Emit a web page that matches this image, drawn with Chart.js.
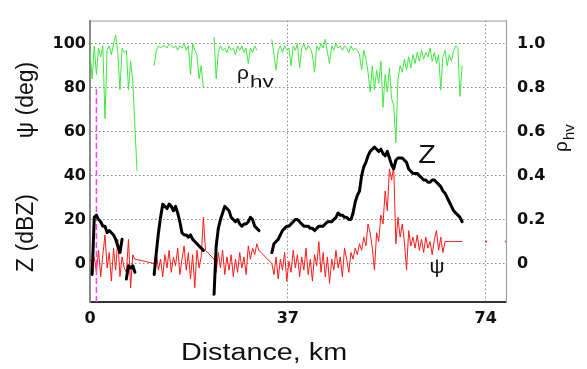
<!DOCTYPE html>
<html>
<head>
<meta charset="utf-8">
<script src="https://cdn.jsdelivr.net/npm/chart.js"></script>
<style>
  body { margin: 0; background: #fff; }
  canvas { display: block; }
</style>
</head>
<body>
<canvas id="radarChart" width="587" height="369"></canvas>
<script>
// range gates along the ray, 0.4 km apart (0 .. 70 km)
const gateKm = Array.from({ length: 176 }, (_, i) => Math.round(i * 4) / 10);

// Z (dBZ), black
const zDbz = [
  null, -5, 21, 22, 20, 19, 17, 17, 14, 15,
  14, 13, 11, 8, 5, 11, null, -7, -1, -2,
  -1, -4, null, null, null, null, null, null, null, null,
  -5, 5, 14, 21, 27, 26, 25, 27, 26, 24,
  26, 23, 19, 14, 13, 13, 12, 13, 11, 10,
  9, 8, 7, 6, null, null, null, null, -14, 8,
  16, 20, 23, 26, 25, 24, 21, 20, 19, 20,
  18, 17, 18, 18, 19, 21, 20, 17, 16, 15,
  null, null, null, null, null, 5, 9, 10, 11, 13,
  15, 16, 17, 17, 18, 19, 20, 20, 19, 18,
  17, 17, 17, 16, 16, 15, 16, 17, 17, 17,
  18, 19, 19, 19, 20, 21, 23, 22, 22, 21,
  21, 20, 20, 23, 28, 31, 33, 40, 44, 46,
  49, 51, 52, 53, 52, 51, 52, 50, 49, 51,
  48, 45, 43, 47, 48, 48, 48, 47, 46, 43,
  42, 41, 41, 41, 40, 39, 38, 38, 37, 37,
  38, 38, 37, 36, 35, 33, 32, 30, 28, 26,
  24, 23, 22, 21, 19, null
];

// psi (deg), red
const psiDeg = [
  2, 0, 3, -4, 6, -6, 4, 13, -2, 5,
  -8, 7, -3, 11, -6, 3, -2, -4, 11, -11,
  4, 2, null, null, null, null, null, null, null, null,
  0, 5, -3, 2, -6, 4, -2, 6, -4, 3,
  -1, 7, -5, 2, 8, -3, 5, -7, 4, -11,
  6, -2, 3, 21, 6, null, null, null, 2, -4,
  5, -2, 6, -5, 3, -3, 4, -6, 2, -4,
  5, -2, 3, -5, 8, 2, 7, 4, 9, 6,
  null, null, null, null, null, 0, -5, 3, -7, 2,
  -3, 5, -8, 1, -4, 6, -2, 4, -6, 3,
  -3, 7, -5, 2, -8, 4, -1, 10, -4, 5,
  -6, 3, -9, 2, -3, 6, -2, 3, -6, 7,
  2, -4, 5, 2, 7, 4, 9, 6, 12, 8,
  18, 14, 7, -3, 14, 10, 22, 18, 33, 24,
  43, 38, 44, 9, 21, 12, 18, 10, -3, 15,
  8, 12, 7, 13, 6, 11, 5, 12, 7, 10,
  4, 11, 15, 6, 12, 5, 10, 10, 10, 10,
  10, 10, 10, 10, 10, null
];
const psiDotKm = [74.1, 77.8];
const psiDotDeg = [10, 10];

// rho_hv, green (right axis)
const rhoHv = [
  0.97, 0.84, 0.99, 0.86, 0.98, 0.94, 0.99, 0.66, 0.97, 0.99,
  0.95, 1.00, 1.04, 0.96, 0.79, 0.98, 0.96, 0.97, 0.79, 0.92,
  0.83, 0.62, 0.42, null, null, null, null, null, null, null,
  0.90, 0.97, 0.99, 0.98, 0.99, 0.99, 0.98, 1.00, 0.99, 0.98,
  0.99, 0.97, 0.99, 0.98, 1.00, 0.97, 0.99, 0.86, 1.00, 0.97,
  0.95, 0.84, 0.90, 0.80, null, null, null, null, 1.03, 0.84,
  0.96, 0.99, 0.97, 0.98, 0.96, 0.99, 0.97, 0.98, 0.95, 0.99,
  0.97, 0.99, 0.96, 0.98, 0.91, 0.98, 0.96, 0.99, 0.97, null,
  null, null, null, null, null, 1.02, 0.95, 0.88, 0.97, 0.99,
  0.96, 0.99, 0.97, 0.98, 0.90, 0.99, 0.97, 1.00, 0.89, 0.98,
  1.00, 0.97, 0.99, 0.98, 0.95, 0.87, 0.99, 0.97, 1.00, 0.98,
  1.02, 0.96, 0.91, 0.99, 0.97, 1.00, 0.98, 0.99, 0.97, 0.99,
  0.98, 0.96, 0.99, 0.97, 0.98, 0.97, 0.95, 0.88, 0.97, 0.93,
  0.87, 0.78, 0.90, 0.79, 0.88, 0.82, 0.92, 0.71, 0.86, 0.78,
  0.89, 0.75, 0.72, 0.55, 0.84, 0.90, 0.87, 0.93, 0.88, 0.94,
  0.89, 0.95, 0.91, 0.96, 0.92, 0.97, 0.93, 0.96, 0.94, 0.98,
  0.92, 0.96, 0.91, 0.95, 0.79, 0.94, 0.97, 0.90, 0.95, 0.92,
  0.97, 0.99, 0.98, 0.76, 0.90, null
];

// magenta dashed marker
const markerKm = [1.2, 1.2];
const markerVal = [-17.5, 80];

const xTicks = [0, 37, 74];
const leftTicks = [0, 20, 40, 60, 80, 100];
const rightTicks = [0, 0.2, 0.4, 0.6, 0.8, 1.0];

const onGates = (vals) => vals.map((v, i) => ({ x: gateKm[i], y: v }));
const pairs = (xs, ys) => xs.map((x, i) => ({ x: x, y: ys[i] }));

function stretchText(ctx, text, x, y, font, sx, align) {
  ctx.save();
  ctx.translate(x, y);
  ctx.scale(sx, 1);
  ctx.font = font;
  ctx.textAlign = align || "left";
  ctx.textBaseline = "alphabetic";
  ctx.fillText(text, 0, 0);
  ctx.restore();
}

const labelsPlugin = {
  id: "labels",
  afterDraw(chart) {
    const ctx = chart.ctx;
    const a = chart.chartArea;
    ctx.save();
    // top frame line
    ctx.strokeStyle = "#9a9a9a";
    ctx.lineWidth = 1;
    ctx.beginPath();
    ctx.moveTo(a.left, a.top + 0.5);
    ctx.lineTo(a.right, a.top + 0.5);
    ctx.stroke();

    ctx.fillStyle = "#111";
    // x title
    stretchText(ctx, "Distance, km", 264, 360, "23px 'Liberation Sans'", 1.25, "center");

    // in-plot labels
    stretchText(ctx, "\u03C1", 237, 79, "19px 'Liberation Sans'", 1.1);
    stretchText(ctx, "hv", 250, 87, "16px 'Liberation Sans'", 1.4);
    stretchText(ctx, "Z", 427, 163, "25px 'Liberation Sans'", 1.15, "center");
    stretchText(ctx, "\u03C8", 437, 273, "21px 'Liberation Sans'", 1.0, "center");

    // left titles (rotated)
    ctx.font = "23px 'Liberation Sans'";
    ctx.textAlign = "center";
    ctx.textBaseline = "middle";
    ctx.save();
    ctx.translate(27, 100);
    ctx.rotate(-Math.PI / 2);
    ctx.fillText("\u03C8 (deg)", 0, 0);
    ctx.restore();
    ctx.save();
    ctx.translate(27, 233);
    ctx.rotate(-Math.PI / 2);
    ctx.fillText("Z (dBZ)", 0, 0);
    ctx.restore();

    // right title rho_hv (rotated)
    ctx.save();
    ctx.translate(567, 152);
    ctx.rotate(-Math.PI / 2);
    ctx.textAlign = "left";
    ctx.textBaseline = "alphabetic";
    ctx.font = "19px 'Liberation Sans'";
    ctx.fillText("\u03C1", 0, 0);
    ctx.font = "15px 'Liberation Sans'";
    ctx.fillText("hv", 12, 7);
    ctx.restore();

    ctx.restore();
  },
};

const tickFont = { family: "'DejaVu Sans'", size: 16, weight: "bold" };
const dotted = { display: true, color: "#858585", lineWidth: 1, drawTicks: false };

const ctx = document.getElementById("radarChart").getContext("2d");
new Chart(ctx, {
  type: "line",
  data: {
    datasets: [
      {
        label: "Z",
        data: onGates(zDbz),
        yAxisID: "y",
        borderColor: "#000",
        borderWidth: 3,
        borderJoinStyle: "round",
        borderCapStyle: "round",
        pointRadius: 0,
        spanGaps: false,
      },
      {
        label: "marker",
        data: pairs(markerKm, markerVal),
        yAxisID: "y",
        borderColor: "#ff40ff",
        borderWidth: 1.5,
        borderDash: [6, 3],
        pointRadius: 0,
      },
      {
        label: "psi",
        data: onGates(psiDeg),
        yAxisID: "y",
        borderColor: "#ff1a1a",
        borderWidth: 1,
        pointRadius: 0,
        spanGaps: true,
      },
      {
        label: "psi dots",
        data: pairs(psiDotKm, psiDotDeg),
        yAxisID: "y",
        showLine: false,
        pointRadius: 1,
        pointBorderWidth: 0,
        pointBackgroundColor: "#ff1a1a",
      },
      {
        label: "rho_hv",
        data: onGates(rhoHv),
        yAxisID: "y1",
        borderColor: "#3ee83e",
        borderWidth: 1,
        pointRadius: 0,
        spanGaps: false,
      },
    ],
  },
  options: {
    responsive: false,
    devicePixelRatio: 1,
    animation: false,
    layout: { padding: { top: 7, left: 0, right: 0, bottom: 0 } },
    scales: {
      x: {
        type: "linear",
        min: 0,
        max: 77.8,
        afterBuildTicks: (s) => { s.ticks = xTicks.map((v) => ({ value: v })); },
        afterFit: (s) => { s.height = 67; },
        ticks: { font: tickFont, color: "#111", padding: 7, autoSkip: false, maxRotation: 0 },
        grid: dotted,
        border: { display: true, color: "#333", width: 2, dash: [1.5, 2.5] },
      },
      y: {
        position: "left",
        min: -17.5,
        max: 110.5,
        afterBuildTicks: (s) => { s.ticks = leftTicks.map((v) => ({ value: v })); },
        afterFit: (s) => { s.width = 90; },
        ticks: { font: tickFont, color: "#111", padding: 4 },
        grid: dotted,
        border: { display: true, color: "#8a8a8a", width: 2, dash: [1.5, 2.5] },
      },
      y1: {
        position: "right",
        min: -0.175,
        max: 1.105,
        afterBuildTicks: (s) => { s.ticks = rightTicks.map((v) => ({ value: v })); },
        afterFit: (s) => { s.width = 81; },
        ticks: {
          font: tickFont,
          color: "#111",
          padding: 11,
          callback: (v) => (v === 0 ? "0" : v.toFixed(1)),
        },
        grid: { display: false, drawTicks: false },
        border: { display: true, color: "#9a9a9a", width: 1 },
      },
    },
    plugins: {
      legend: { display: false },
      tooltip: { enabled: false },
    },
  },
  plugins: [labelsPlugin],
});
</script>
</body>
</html>
